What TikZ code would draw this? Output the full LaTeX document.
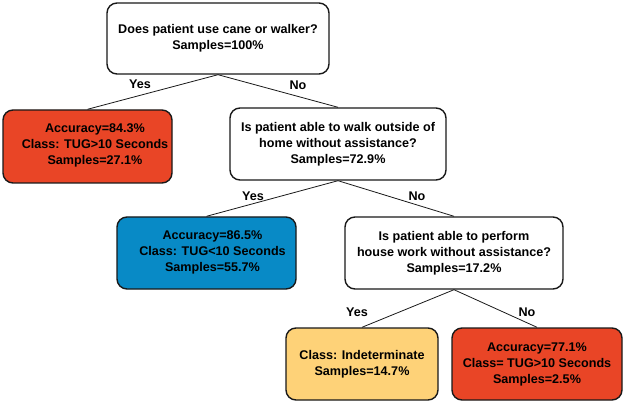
\documentclass[tikz,border=0pt]{standalone}
\usepackage{fontspec}
\setmainfont{Liberation Sans}
\definecolor{redbox}{RGB}{233,69,38}
\definecolor{bluebox}{RGB}{8,138,198}
\definecolor{yellowbox}{RGB}{254,210,120}
\definecolor{edge}{RGB}{25,25,25}
\begin{document}
\begin{tikzpicture}[x=1pt,y=-1pt,
  box/.style={draw=edge,line width=1.4pt,rounded corners=10pt,inner sep=0pt,align=center,
    font=\fontsize{12.6}{16}\selectfont\bfseries},
  boxtext/.style={inner sep=0pt,align=center,font=\fontsize{12.6}{16}\selectfont\bfseries},
  conn/.style={draw=edge,line width=0.8pt},
  lbl/.style={font=\fontsize{12.6}{14}\selectfont\bfseries,inner sep=0pt}]
\useasboundingbox (0,0) rectangle (623,403);
\node[box,minimum width=222pt,minimum height=71pt] (q1) at (218,38.5) {Does patient use cane or walker?\\Samples=100\%};
\node[box,fill=redbox,minimum width=169pt,minimum height=73pt] (r1) at (87.5,146.5) {};
\node[boxtext] (r1t) at (95,145) {Accuracy=84.3\%\\Class: TUG>10 Seconds\\Samples=27.1\%};
\node[box,minimum width=216pt,minimum height=72pt] (q2) at (338,144) {Is patient able to walk outside of\\home without assistance?\\Samples=72.9\%};
\node[box,fill=bluebox,minimum width=179pt,minimum height=72pt] (b1) at (206.5,253) {};
\node[boxtext] (b1t) at (212.5,252) {Accuracy=86.5\%\\Class: TUG<10 Seconds\\Samples=55.7\%};
\node[box,minimum width=218pt,minimum height=72pt] (q3) at (454,253) {Is patient able to perform\\house work without assistance?\\Samples=17.2\%};
\node[box,fill=yellowbox,minimum width=152pt,minimum height=72pt] (y1) at (362,364) {Class: Indeterminate\\Samples=14.7\%};
\node[box,fill=redbox,minimum width=170pt,minimum height=72pt] (r2) at (537,364) {Accuracy=77.1\%\\Class= TUG>10 Seconds\\Samples=2.5\%};
\draw[conn] (q1.south) -- (r1.north);
\draw[conn] (q1.south) -- (q2.north);
\draw[conn] (q2.south) -- (b1.north);
\draw[conn] (q2.south) -- (q3.north);
\draw[conn] (q3.south) -- (y1.north);
\draw[conn] (q3.south) -- (r2.north);
\node[lbl] (l1) at (140,84) {Yes};
\node[lbl] (l2) at (298,85) {No};
\node[lbl] (l3) at (253,196) {Yes};
\node[lbl] (l4) at (417,196) {No};
\node[lbl] (l5) at (357,312) {Yes};
\node[lbl] (l6) at (527,312) {No};
\end{tikzpicture}
\end{document}
